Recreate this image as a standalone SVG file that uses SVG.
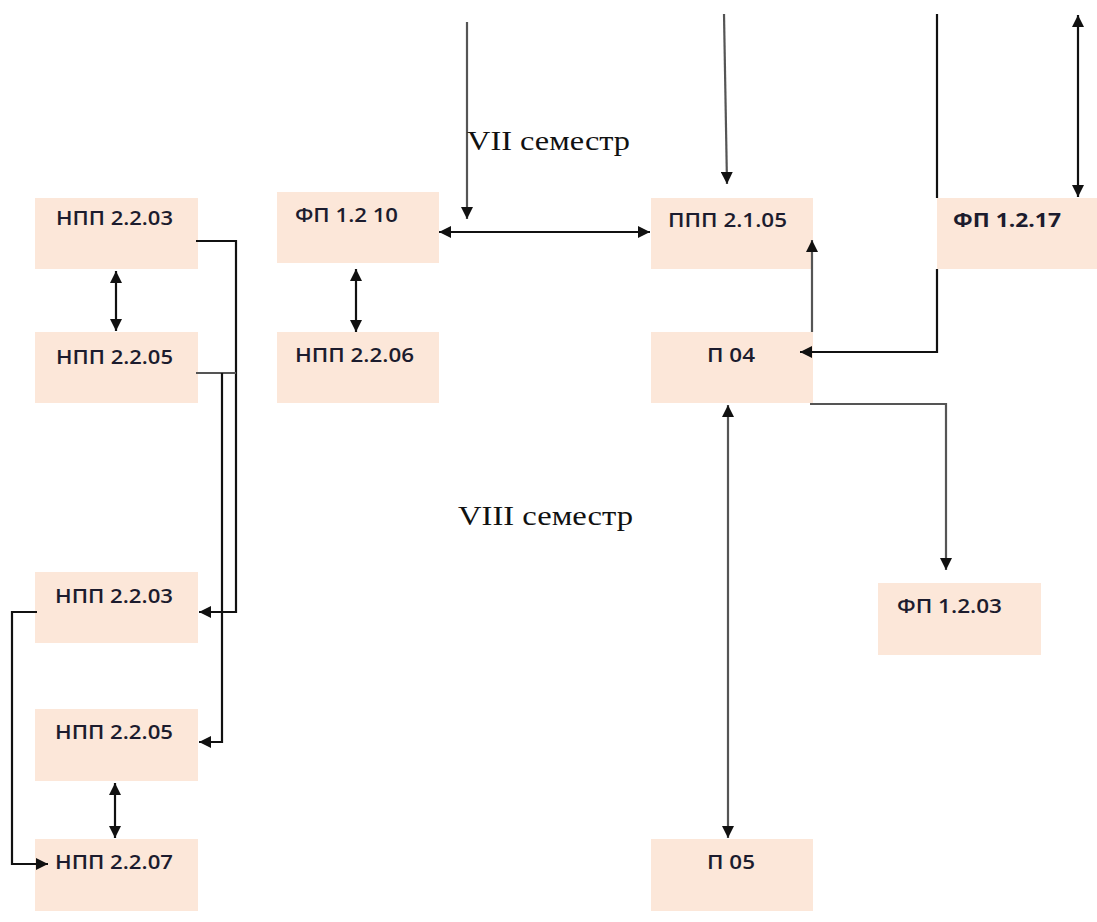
<svg xmlns="http://www.w3.org/2000/svg" width="1097" height="922" viewBox="0 0 1097 922">
<style>
.box{fill:#FCE7D9}
.t{font-family:"Open Sans","Liberation Sans",sans-serif;font-size:19px;font-weight:600;fill:#1c1c2e}
.b{font-weight:bold}
.sem{font-family:"Liberation Serif",serif;font-size:28px;fill:#111}
.c{fill:none;stroke:#111;stroke-width:2.2}
.g{stroke:#555}
</style>
<defs>
<marker id="ah" markerUnits="userSpaceOnUse" markerWidth="14" markerHeight="12" refX="12" refY="6" orient="auto-start-reverse">
<path d="M0,0 L12,6 L0,12 Z" fill="#111"/>
</marker>
</defs>
<g id="n_npp_2203_a"><rect class="box" x="35" y="198" width="163" height="71"/><text class="t" x="56" y="225" textLength="117" lengthAdjust="spacingAndGlyphs">НПП 2.2.03</text></g>
<g id="n_npp_2205_a"><rect class="box" x="35" y="332" width="163" height="71"/><text class="t" x="56" y="364" textLength="117" lengthAdjust="spacingAndGlyphs">НПП 2.2.05</text></g>
<g id="n_fp_1210"><rect class="box" x="277" y="192" width="162" height="71"/><text class="t" x="295" y="222" textLength="103" lengthAdjust="spacingAndGlyphs">ФП 1.2 10</text></g>
<g id="n_npp_2206"><rect class="box" x="277" y="332" width="162" height="71"/><text class="t" x="295" y="362" textLength="119" lengthAdjust="spacingAndGlyphs">НПП 2.2.06</text></g>
<g id="n_ppp_2105"><rect class="box" x="651" y="198" width="162" height="71"/><text class="t" x="668" y="227" textLength="119" lengthAdjust="spacingAndGlyphs">ППП 2.1.05</text></g>
<g id="n_fp_1217"><rect class="box" x="937" y="198" width="162" height="71"/><text class="t b" x="953" y="227" textLength="108" lengthAdjust="spacingAndGlyphs">ФП 1.2.17</text></g>
<g id="n_p04"><rect class="box" x="651" y="332" width="162" height="71"/><text class="t" x="707" y="362" textLength="48" lengthAdjust="spacingAndGlyphs">П 04</text></g>
<g id="n_fp_1203"><rect class="box" x="878" y="583" width="163" height="72"/><text class="t" x="897" y="613" textLength="105" lengthAdjust="spacingAndGlyphs">ФП 1.2.03</text></g>
<g id="n_p05"><rect class="box" x="651" y="839" width="162" height="72"/><text class="t" x="707" y="869" textLength="48" lengthAdjust="spacingAndGlyphs">П 05</text></g>
<g id="n_npp_2203_b"><rect class="box" x="35" y="572" width="163" height="71"/><text class="t" x="55" y="603" textLength="118" lengthAdjust="spacingAndGlyphs">НПП 2.2.03</text></g>
<g id="n_npp_2205_b"><rect class="box" x="35" y="709" width="163" height="72"/><text class="t" x="55" y="739" textLength="118" lengthAdjust="spacingAndGlyphs">НПП 2.2.05</text></g>
<g id="n_npp_2207"><rect class="box" x="35" y="839" width="163" height="72"/><text class="t" x="55" y="869" textLength="118" lengthAdjust="spacingAndGlyphs">НПП 2.2.07</text></g>
<g id="connectors">
<line class="c" x1="937" y1="14" x2="937" y2="198"/>
<path class="c" d="M937,269 L937,352 L800,352" marker-end="url(#ah)"/>
<line class="c" x1="116" y1="271" x2="116" y2="331" marker-start="url(#ah)" marker-end="url(#ah)"/>
<line class="c" x1="356" y1="269" x2="356" y2="332" marker-start="url(#ah)" marker-end="url(#ah)"/>
<line class="c" x1="439" y1="232" x2="650" y2="232" marker-start="url(#ah)" marker-end="url(#ah)"/>
<line class="c g" x1="467" y1="22" x2="467" y2="219" marker-end="url(#ah)"/>
<line class="c g" x1="724" y1="14" x2="727" y2="184" marker-end="url(#ah)"/>
<line class="c" x1="1078" y1="15" x2="1078" y2="197" marker-start="url(#ah)" marker-end="url(#ah)"/>
<line class="c g" x1="812" y1="332" x2="812" y2="240" marker-end="url(#ah)"/>
<path class="c g" d="M810,404 L946,404 L946,570" marker-end="url(#ah)"/>
<line class="c g" x1="728" y1="405" x2="728" y2="838" marker-start="url(#ah)" marker-end="url(#ah)"/>
<path class="c" d="M196,241 L236,241 L236,612 L199,612" marker-end="url(#ah)"/>
<path class="c g" d="M196,373 L236,373"/>
<path class="c" d="M222,373 L222,742 L199,742" marker-end="url(#ah)"/>
<path class="c" d="M37,612 L12,612 L12,864 L48,864" marker-end="url(#ah)"/>
<line class="c" x1="115" y1="783" x2="115" y2="838" marker-start="url(#ah)" marker-end="url(#ah)"/>
</g>
<g id="labels">
<text class="sem" x="467" y="150" textLength="163" lengthAdjust="spacingAndGlyphs">VII семестр</text>
<text class="sem" x="458" y="525" textLength="175" lengthAdjust="spacingAndGlyphs">VIII семестр</text>
</g>
</svg>
